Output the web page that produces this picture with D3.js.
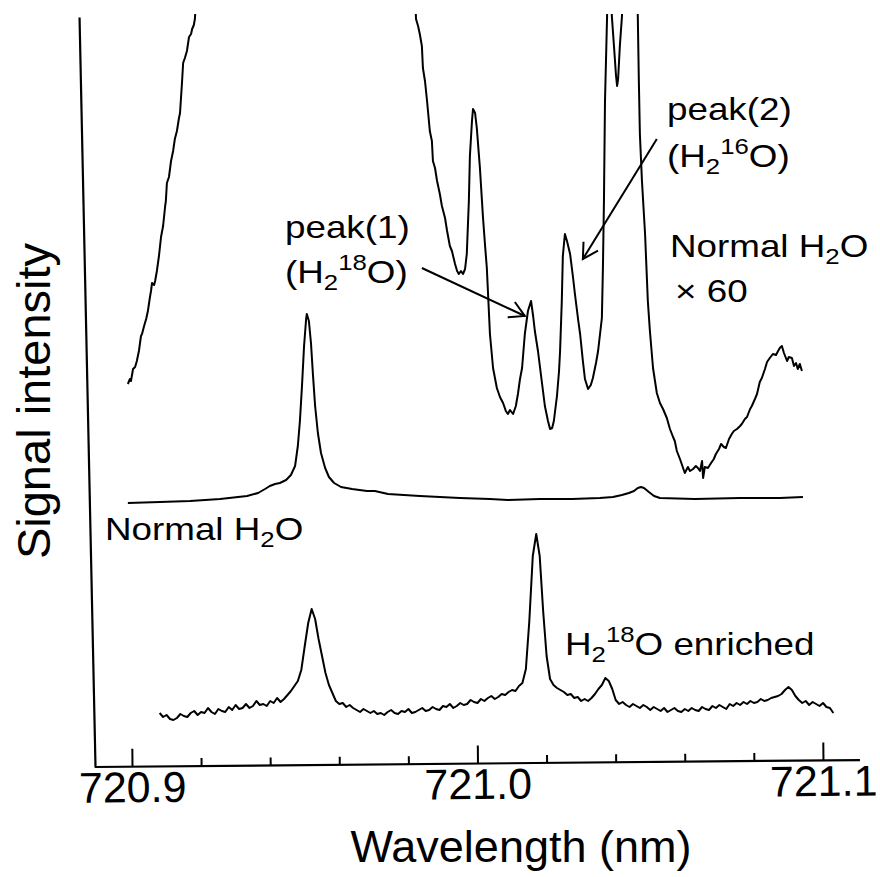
<!DOCTYPE html>
<html>
<head>
<meta charset="utf-8">
<script src="https://cdn.jsdelivr.net/npm/d3@7"></script>
<style>
  body { margin: 0; background: #fff; }
  svg { display: block; font-family: "Liberation Sans", Arial, Helvetica, sans-serif; }
</style>
</head>
<body>
<div id="chart"></div>
<script>
// tick values (nm)
var majorTicks = [720.9, 721.0, 721.1];
var minorTicks = [720.92, 720.94, 720.96, 720.98, 721.02, 721.04, 721.06, 721.08];

// Normal H2O x60 (upper trace), [wavelength nm, signal]; values > 75 run off the top
var normalX60 = [
  [720.8988,38.3],[720.8994,38.8],[720.8997,38.6],[720.9003,39.8],[720.9009,40.0],[720.9014,40.6],
  [720.9020,41.6],[720.9026,43.1],[720.9029,43.3],[720.9035,44.1],[720.9041,44.8],[720.9046,45.6],
  [720.9052,47.0],[720.9055,47.6],[720.9058,48.4],[720.9064,48.2],[720.9067,48.6],[720.9072,49.6],
  [720.9078,51.1],[720.9084,53.0],[720.9090,54.1],[720.9096,56.1],[720.9098,56.6],[720.9101,58.4],
  [720.9107,59.0],[720.9113,60.6],[720.9119,61.6],[720.9124,62.8],[720.9130,63.6],[720.9136,64.9],
  [720.9139,65.4],[720.9145,68.6],[720.9148,70.4],[720.9153,70.9],[720.9159,71.6],[720.9165,73.0],
  [720.9171,73.3],[720.9174,73.8],[720.9179,74.2],[720.9182,74.8],[720.9188,78],
  [720.9819,78],[720.9822,74.8],[720.9828,74.1],[720.9833,73.3],[720.9839,72.1],[720.9842,69.9],
  [720.9848,68.6],[720.9854,66.6],[720.9862,63.6],[720.9868,62.6],[720.9871,60.6],[720.9877,59.9],
  [720.9883,58.6],[720.9891,57.3],[720.9897,56.1],[720.9906,54.9],[720.9912,53.6],[720.9920,52.1],
  [720.9926,51.6],[720.9935,50.3],[720.9941,49.6],[720.9946,49.3],[720.9952,49.6],[720.9958,49.3],
  [720.9964,49.8],[720.9969,51.3],[720.9975,56.6],[720.9978,61.1],[720.9984,64.6],[720.9987,65.8],
  [720.9993,65.4],[720.9998,63.9],[721.0007,59.9],[721.0016,54.9],[721.0022,52.1],[721.0027,49.9],
  [721.0036,43.3],[721.0045,39.9],[721.0056,37.9],[721.0065,37.0],[721.0074,36.4],[721.0082,35.6],
  [721.0088,35.3],[721.0094,35.7],[721.0103,35.3],[721.0111,36.1],[721.0117,37.3],[721.0123,38.8],
  [721.0129,39.9],[721.0137,43.3],[721.0146,45.6],[721.0155,46.6],[721.0161,45.1],[721.0166,43.6],
  [721.0175,41.6],[721.0187,38.3],[721.0195,36.1],[721.0204,34.6],[721.0210,33.8],[721.0216,33.9],
  [721.0221,34.6],[721.0230,37.1],[721.0236,39.6],[721.0239,41.6],[721.0244,46.6],[721.0247,51.1],
  [721.0253,53.3],[721.0259,52.6],[721.0268,51.3],[721.0276,49.1],[721.0282,47.3],[721.0291,44.8],
  [721.0297,43.3],[721.0305,40.6],[721.0311,38.8],[721.0320,37.8],[721.0328,38.2],[721.0334,38.9],
  [721.0343,40.4],[721.0349,41.6],[721.0354,43.1],[721.0360,44.9],[721.0363,49.9],[721.0366,56.6],
  [721.0369,66.6],[721.0375,75.0],[721.0376,78],[721.0386,78],[721.0389,75.0],[721.0395,72.1],
  [721.0401,69.1],[721.0404,68.1],[721.0407,68.8],[721.0412,72.1],[721.0418,75.0],[721.0421,78],
  [721.0462,78],[721.0464,75.0],[721.0467,68.6],[721.0470,63.3],[721.0476,58.6],[721.0485,53.3],
  [721.0493,46.6],[721.0499,43.6],[721.0508,39.9],[721.0519,37.4],[721.0528,36.4],[721.0537,35.8],
  [721.0548,34.9],[721.0557,33.8],[721.0566,33.0],[721.0571,32.6],[721.0577,31.6],[721.0586,30.8],
  [721.0595,29.9],[721.0600,29.4],[721.0609,30.0],[721.0615,29.6],[721.0624,29.8],[721.0632,30.1],
  [721.0638,29.9],[721.0644,29.6],[721.0650,30.6],[721.0653,28.9],[721.0658,30.0],[721.0667,29.9],
  [721.0676,30.4],[721.0684,30.8],[721.0690,31.3],[721.0699,31.8],[721.0705,32.3],[721.0713,32.0],
  [721.0719,31.9],[721.0728,32.8],[721.0736,33.3],[721.0742,33.6],[721.0751,33.8],[721.0760,34.1],
  [721.0765,34.3],[721.0774,34.8],[721.0780,35.0],[721.0789,35.8],[721.0794,36.1],[721.0803,36.8],
  [721.0809,37.3],[721.0817,38.5],[721.0823,38.9],[721.0832,39.8],[721.0838,40.5],[721.0846,40.9],
  [721.0855,41.3],[721.0864,41.2],[721.0870,41.6],[721.0875,41.9],[721.0881,42.1],[721.0887,41.4],
  [721.0896,40.6],[721.0901,41.0],[721.0910,40.9],[721.0916,40.1],[721.0922,40.4],[721.0927,39.8],
  [721.0933,40.3],[721.0939,39.6]
];

// Normal H2O (middle trace)
var normalH2O = [
  [720.8988,26.4],[720.9081,26.5],[720.9168,26.6],[720.9255,26.8],[720.9333,27.1],[720.9365,27.4],
  [720.9385,27.8],[720.9399,28.1],[720.9414,28.3],[720.9428,28.4],[720.9446,28.7],[720.9460,29.2],
  [720.9472,30.1],[720.9480,32.1],[720.9486,34.6],[720.9492,38.1],[720.9498,42.1],[720.9504,44.8],
  [720.9506,45.3],[720.9512,44.6],[720.9518,42.4],[720.9524,39.1],[720.9530,36.1],[720.9538,33.4],
  [720.9547,31.4],[720.9559,29.9],[720.9570,29.0],[720.9585,28.4],[720.9605,28.0],[720.9637,27.8],
  [720.9680,27.6],[720.9703,27.6],[720.9741,27.3],[720.9833,27.1],[720.9949,26.9],[721.0036,26.8],
  [721.0088,26.7],[721.0181,26.8],[721.0273,26.8],[721.0354,26.9],[721.0392,27.0],[721.0418,27.2],
  [721.0438,27.4],[721.0453,27.6],[721.0464,27.9],[721.0473,28.0],[721.0482,27.9],[721.0496,27.5],
  [721.0511,27.1],[721.0528,26.9],[721.0629,26.8],[721.0760,26.9],[721.0875,26.9],[721.0942,27.0]
];

// H2 18O enriched (lower trace)
var enriched = [
  [720.908,5.4],[720.909,5.0],[720.910,5.2],[720.911,4.8],[720.912,4.7],[720.913,4.9],[720.914,5.3],
  [720.915,5.1],[720.916,5.0],[720.917,5.4],[720.918,5.6],[720.919,5.2],[720.920,5.5],[720.921,5.4],
  [720.922,5.9],[720.923,5.5],[720.924,5.3],[720.925,5.8],[720.926,5.6],[720.927,5.5],[720.928,6.0],
  [720.929,5.7],[720.930,6.2],[720.931,5.8],[720.932,5.9],[720.933,6.3],[720.934,5.9],[720.935,6.1],
  [720.936,6.6],[720.937,6.2],[720.938,6.3],[720.939,6.1],[720.940,6.6],[720.941,6.4],[720.942,6.9],
  [720.943,6.5],[720.944,6.8],[720.945,7.2],[720.946,7.6],[720.947,8.1],[720.948,8.6],[720.949,9.7],
  [720.950,12.1],[720.951,14.4],[720.952,15.8],[720.953,14.8],[720.954,12.8],[720.955,11.1],[720.956,9.4],
  [720.957,8.2],[720.958,7.4],[720.959,6.6],[720.960,6.3],[720.961,6.4],[720.962,6.0],[720.963,6.2],
  [720.964,5.9],[720.965,5.7],[720.966,5.5],[720.967,5.8],[720.968,5.6],[720.969,5.4],[720.970,5.6],
  [720.971,5.3],[720.972,5.4],[720.973,5.2],[720.974,5.5],[720.975,5.7],[720.976,5.4],[720.977,5.3],
  [720.978,5.6],[720.979,5.5],[720.980,5.8],[720.981,5.4],[720.982,5.5],[720.983,5.7],[720.984,5.9],
  [720.985,5.6],[720.986,5.7],[720.987,6.0],[720.988,5.8],[720.989,5.7],[720.990,6.1],[720.991,6.0],
  [720.992,6.3],[720.993,5.9],[720.994,6.1],[720.995,6.4],[720.996,6.2],[720.997,6.3],[720.998,6.7],
  [720.999,6.5],[721.000,6.4],[721.001,6.8],[721.002,6.6],[721.003,6.9],[721.004,7.1],[721.005,6.8],
  [721.006,7.0],[721.007,7.3],[721.008,7.2],[721.009,7.5],[721.010,7.7],[721.011,7.6],[721.012,8.1],
  [721.013,8.4],[721.014,9.8],[721.015,14.6],[721.016,21.1],[721.017,23.3],[721.018,21.1],[721.019,15.6],
  [721.020,11.1],[721.021,8.8],[721.022,8.2],[721.023,7.9],[721.024,7.7],[721.025,7.5],[721.026,7.2],
  [721.027,7.3],[721.028,6.9],[721.029,7.0],[721.030,6.6],[721.031,6.8],[721.032,6.6],[721.033,6.9],
  [721.034,7.3],[721.035,7.8],[721.036,8.2],[721.037,8.9],[721.038,8.6],[721.039,7.8],[721.040,6.7],
  [721.041,6.3],[721.042,6.5],[721.043,6.2],[721.044,6.0],[721.045,6.3],[721.046,6.1],[721.047,5.9],
  [721.048,6.2],[721.049,6.0],[721.050,5.7],[721.051,6.0],[721.052,5.8],[721.053,5.6],[721.054,5.9],
  [721.055,5.5],[721.056,5.7],[721.057,5.9],[721.058,5.6],[721.059,5.5],[721.060,5.8],[721.061,5.6],
  [721.062,5.9],[721.063,5.7],[721.064,5.6],[721.065,6.0],[721.066,5.8],[721.067,5.7],[721.068,6.1],
  [721.069,5.9],[721.070,6.2],[721.071,6.0],[721.072,5.8],[721.073,6.3],[721.074,6.1],[721.075,6.4],
  [721.076,6.2],[721.077,6.5],[721.078,6.3],[721.079,6.6],[721.080,6.4],[721.081,6.5],[721.082,6.8],
  [721.083,6.6],[721.084,6.7],[721.085,6.9],[721.086,7.0],[721.087,7.1],[721.088,7.3],[721.089,7.7],
  [721.090,8.0],[721.091,7.7],[721.092,7.1],[721.093,6.7],[721.094,6.4],[721.095,6.6],[721.096,6.2],
  [721.097,6.5],[721.098,6.3],[721.099,6.1],[721.100,6.4],[721.101,6.0],[721.102,5.9],[721.103,5.4]
];

// arrows: [from, to] in [wavelength, signal]
var arrows = [
  [[720.9839, 49.9], [721.0137, 45.1]],
  [[721.0519, 62.8], [721.0305, 50.8]]
];

var svgWidth = 880;
var svgHeight = 877;
var axisLeft = 95;
var axisBottom = 767;
var axisTop = 17;
var axisRight = 860;

var svg = d3.select("#chart").append("svg")
    .attr("width", svgWidth)
    .attr("height", svgHeight);

var x = d3.scaleLinear().domain([720.9, 721.1]).range([132, 823]);
var y = d3.scaleLinear().domain([0, 75]).range([axisBottom, axisTop]);

svg.append("clipPath").attr("id", "plotclip")
  .append("rect").attr("x", axisLeft - 5).attr("y", 14).attr("width", 790).attr("height", 760);

var line = d3.line().x(d => x(d[0])).y(d => y(d[1]));

var plot = svg.append("g").attr("clip-path", "url(#plotclip)");
[normalX60, normalH2O, enriched].forEach(function (series) {
    plot.append("path")
        .datum(series)
        .attr("d", line)
        .attr("fill", "none")
        .attr("stroke", "#000")
        .attr("stroke-width", 2)
        .attr("stroke-linejoin", "round");
});

// x axis (slightly tilted like the scan)
var xAxisG = svg.append("g").attr("transform", `rotate(-0.52, ${axisLeft}, ${axisBottom})`);
xAxisG.append("line")
    .attr("x1", axisLeft).attr("x2", axisRight)
    .attr("y1", axisBottom).attr("y2", axisBottom)
    .attr("stroke", "#000").attr("stroke-width", 2.2);

var minorG = xAxisG.append("g")
    .attr("transform", `translate(0,${axisBottom})`)
    .call(d3.axisBottom(x).tickValues(minorTicks).tickSize(-8).tickFormat(""));
minorG.select(".domain").remove();

var majorG = xAxisG.append("g")
    .attr("transform", `translate(0,${axisBottom})`)
    .call(d3.axisBottom(x).tickValues(majorTicks).tickSize(-18).tickPadding(5).tickFormat(d3.format(".1f")));
majorG.select(".domain").remove();
majorG.attr("font-family", null).attr("font-size", null);
majorG.selectAll("text").attr("font-size", 43).attr("fill", "#000");

xAxisG.selectAll(".tick line").attr("stroke", "#000").attr("stroke-width", 2);

// y axis (leaning like the scan)
var yAxisG = svg.append("g")
    .attr("transform", `translate(${axisLeft},${axisBottom}) skewX(1.22) translate(0,${-axisBottom})`)
    .call(d3.axisLeft(y).tickValues([]).tickSizeOuter(0));
yAxisG.select(".domain").attr("stroke", "#000").attr("stroke-width", 2.2);

// axis titles
svg.append("text")
    .attr("x", 521).attr("y", 862)
    .attr("text-anchor", "middle")
    .attr("font-size", 45)
    .text("Wavelength (nm)");

svg.append("text")
    .attr("transform", "translate(50,401) rotate(-90)")
    .attr("text-anchor", "middle")
    .attr("font-size", 47)
    .text("Signal intensity");

// arrows
svg.append("defs").append("marker")
    .attr("id", "vhead")
    .attr("viewBox", "-20 -12 24 24")
    .attr("refX", 0).attr("refY", 0)
    .attr("markerWidth", 24).attr("markerHeight", 24)
    .attr("markerUnits", "userSpaceOnUse")
    .attr("orient", "auto")
  .append("path")
    .attr("d", "M-15,-8.5L0,0L-15,8.5")
    .attr("fill", "none").attr("stroke", "#000").attr("stroke-width", 2);

svg.selectAll(".arrow").data(arrows).enter().append("line")
    .attr("class", "arrow")
    .attr("x1", d => x(d[0][0])).attr("y1", d => y(d[0][1]))
    .attr("x2", d => x(d[1][0])).attr("y2", d => y(d[1][1]))
    .attr("stroke", "#000").attr("stroke-width", 2)
    .attr("marker-end", "url(#vhead)");

// annotations
var labelSize = 32;
var labelStretch = 1.15;
var labels = [
    {x: 285, y: 238, parts: [["peak(1)"]]},
    {x: 285, y: 283, parts: [["(H"], ["2", "sub"], ["18", "sup"], ["O)"]]},
    {x: 667, y: 120, parts: [["peak(2)"]]},
    {x: 667, y: 167, parts: [["(H"], ["2", "sub"], ["16", "sup"], ["O)"]]},
    {x: 670, y: 257, parts: [["Normal H"], ["2", "sub"], ["O"]]},
    {x: 675, y: 302, parts: [["\u00d7 60"]]},
    {x: 105, y: 540, parts: [["Normal H"], ["2", "sub"], ["O"]]},
    {x: 565, y: 655, parts: [["H"], ["2", "sub"], ["18", "sup"], ["O enriched"]]}
];

labels.forEach(function (lab) {
    var t = svg.append("text")
        .attr("transform", `translate(${lab.x},${lab.y}) scale(${labelStretch},1)`)
        .attr("font-size", labelSize);
    var cur = 0;
    lab.parts.forEach(function (p) {
        var off = p[1] === "sup" ? -0.4 * labelSize : p[1] === "sub" ? 0.22 * labelSize : 0;
        t.append("tspan")
            .attr("dy", off - cur)
            .attr("font-size", p[1] ? labelSize * 0.7 : labelSize)
            .text(p[0]);
        cur = off;
    });
});
</script>
</body>
</html>
